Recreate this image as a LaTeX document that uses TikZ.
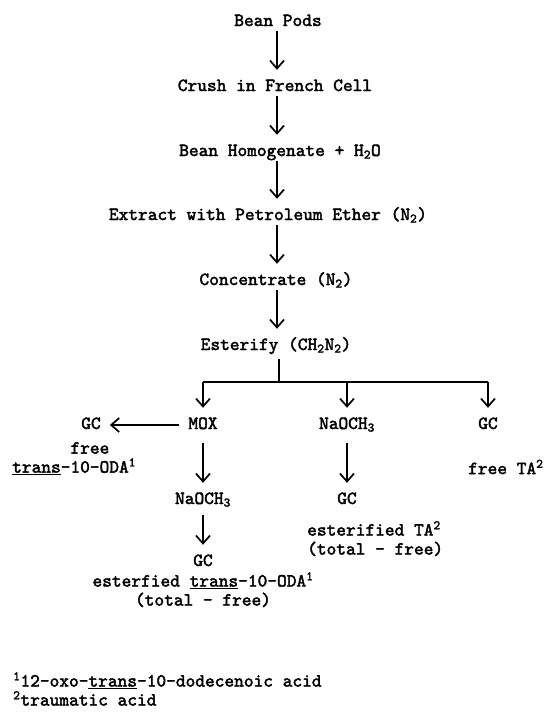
\documentclass[tikz,border=0pt]{standalone}
\usepackage{fontspec}
\newfontfamily\typer{lmmono10-regular.otf}[FakeBold=2.2]
\usetikzlibrary{arrows.meta}

\begin{document}
\begin{tikzpicture}[
	x=1pt, y=-1pt,
	stage/.style={
		font=\fontsize{18.5}{18}\selectfont\typer,
		align=center,
		inner sep=2pt,
		text height=11pt,
		text depth=3pt
	},
	note/.style={
		font=\fontsize{18.5}{19}\selectfont\typer,
		inner sep=0pt
	},
	flow/.style={
		-{Straight Barb[length=8pt,width=14pt,line width=1.7pt]},
		line width=1.5pt,
		shorten >=8pt
	},
	bar/.style={
		line width=1.5pt
	},
]

\useasboundingbox (0,0) rectangle (544,715);

%% Main column %%
\coordinate (col) at (277,0);
\node[stage] (pods) at (278,22) {Bean Pods};
\node[stage] (crush) at (275,87) {Crush in French Cell};
\node[stage] (homog) at (280,152) {Bean Homogenate + H\textsubscript{2}O};
\node[stage] (extract) at (268,216) {Extract with Petroleum Ether (N\textsubscript{2})};
\node[stage] (conc) at (276,281) {Concentrate (N\textsubscript{2})};
\node[stage] (ester) at (276,346) {Esterify (CH\textsubscript{2}N\textsubscript{2})};

\draw[flow] (pods.south -| col) -- (crush.north -| col);
\draw[flow] (crush.south -| col) -- (homog.north -| col);
\draw[flow] (homog.south -| col) -- (extract.north -| col);
\draw[flow] (extract.south -| col) -- (conc.north -| col);
\draw[flow] (conc.south -| col) -- (ester.north -| col);

%% Split %%
\coordinate (split) at (279,382);

\node[stage] (gcfree) at (91,425) {GC};
\node[stage] (mox) at (203,425) {MOX};
\node[stage] (naome) at (347,425) {NaOCH\textsubscript{3}};
\node[stage] (gcright) at (488,425) {GC};

\draw[bar, shorten <=4pt] (ester.south -| split) -- (split);
\draw[bar] (mox |- split) -- (gcright |- split);
\draw[flow] (mox |- split) -- (mox);
\draw[flow] (naome |- split) -- (naome);
\draw[flow] (gcright |- split) -- (gcright);

% left branch %
\draw[flow, shorten <=7pt, shorten >=7pt] (mox) -- (gcfree);
\node[note, anchor=north west, align=left] (freeoda) at (12,442)
	{\hphantom{trans-}free\\\underline{trans}-10-ODA\textsuperscript{1}};

\node[stage] (naome2) at (203,500) {NaOCH\textsubscript{3}};
\node[stage] (gclow) at (203,562) {GC};
\node[note, anchor=north, align=center] (estoda) at (203,572)
	{esterfied \underline{trans}-10-ODA\textsuperscript{1}\\(total - free)};

\draw[flow, shorten <=9pt] (mox) -- (naome2);
\draw[flow, shorten <=6pt] (naome2) -- (gclow);

% middle branch %
\node[stage] (gcmid) at (347,500) {GC};
\node[note, anchor=north west, align=left] (estta) at (307,521)
	{esterified TA\textsuperscript{2}\\(total - free)};

\draw[flow, shorten <=9pt] (naome) -- (gcmid);

% right branch %
\node[note, anchor=west] (freeta) at (468,467) {free TA\textsuperscript{2}};

%% Footnotes %%
\node[note, anchor=north west, align=left] (notes) at (13,672)
	{\textsuperscript{1}12-oxo-\underline{trans}-10-dodecenoic acid\\
	 \textsuperscript{2}traumatic acid};

\end{tikzpicture}
\end{document}
